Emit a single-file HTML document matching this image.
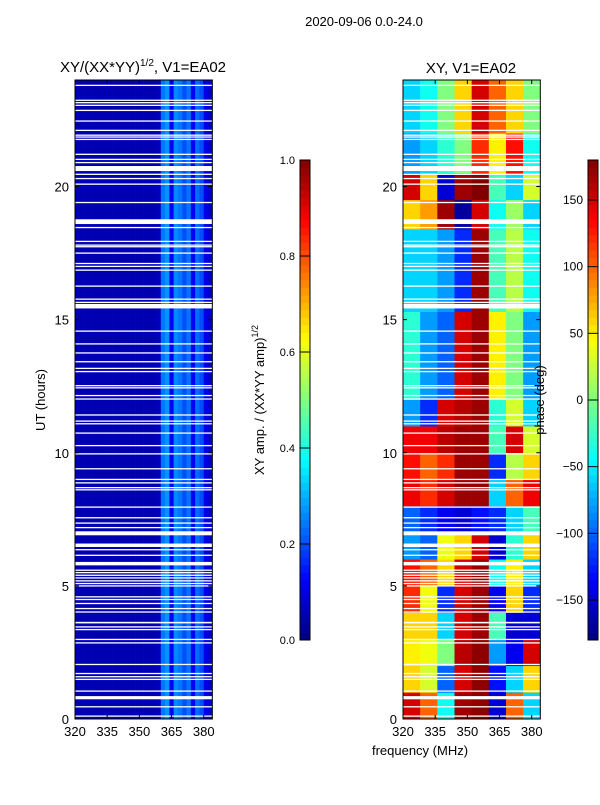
<!DOCTYPE html>
<html><head><meta charset="utf-8"><style>
body{margin:0;background:#fff;}
svg text{font-family:"Liberation Sans",sans-serif;fill:#000;}
</style></head><body>
<svg id="fig" width="600" height="800" xmlns="http://www.w3.org/2000/svg">
<rect width="600" height="800" fill="#fff"/>
<text x="364" y="26" font-size="13" text-anchor="middle">2020-09-06 0.0-24.0</text>
<text x="143" y="72" font-size="15" text-anchor="middle">XY/(XX*YY)<tspan font-size="10" dy="-6">1/2</tspan><tspan dy="6">, V1=EA02</tspan></text>
<text x="471" y="73" font-size="15" text-anchor="middle">XY, V1=EA02</text>
<g id="leftHeat"></g>
<g id="rightHeat"></g>
<g id="axes"></g>
<text transform="translate(45,400) rotate(-90)" font-size="13" text-anchor="middle">UT (hours)</text>
<text x="420" y="755" font-size="13" text-anchor="middle">frequency (MHz)</text>
<text transform="translate(264,400) rotate(-90)" font-size="13" text-anchor="middle">XY amp. / (XX*YY amp)<tspan font-size="9" dy="-6">1/2</tspan></text>
<text transform="translate(544,400) rotate(-90)" font-size="13" text-anchor="middle">phase (deg)</text>
<g id="cbars"></g>
</svg>
<script>
// ---- data ----
const freqBinStarts = [320,322,324,326,328,330,332,334,336,338,340,342,344,346,348,350,352,354,356,358,360,362,364,366,368,370,372,374,376,378,380,382];
const ampByFreq = [0.05,0.05,0.05,0.05,0.05,0.05,0.05,0.05,0.05,0.05,0.05,0.05,0.05,0.05,0.05,0.05,0.05,0.05,0.05,0.06,0.24,0.27,0.12,0.26,0.24,0.2,0.24,0.12,0.23,0.2,0.1,0.08];
const phaseFreqStarts = [320,328,336,344,352,360,368,376];
const phaseHourStarts = [0,1,2,3,4,5,6,7,8,9,10,11,12,15.3,18.4,19.5,20.5,22];
const phaseGrid = [
 [150,100,-40,170,175,-150,100,-60],
 [60,30,-100,150,175,-130,-60,60],
 [50,40,0,160,175,-80,-140,150],
 [60,60,-60,150,170,-20,-150,-150],
 [120,40,-120,150,170,-140,60,-120],
 [130,100,60,150,170,-40,50,-60],
 [-80,-100,40,60,150,-150,-30,60],
 [-100,-120,-140,-150,-130,-120,-60,-20],
 [140,120,150,170,170,-60,100,140],
 [130,100,120,170,170,-120,20,60],
 [140,140,160,170,170,-20,150,30],
 [-80,-120,150,160,170,-30,30,-60],
 [-30,-80,-100,150,170,50,0,-80],
 [-60,-60,-80,-120,170,-20,20,-40],
 [60,80,170,-170,150,-40,10,-60],
 [150,60,-150,170,180,-20,-60,30],
 [-80,-60,-30,0,120,50,130,-40],
 [-60,-40,0,60,150,100,60,0]
];
const blankHours = [23.80,23.24,23.15,23.05,22.86,22.46,22.11,21.93,21.86,21.77,21.21,21.02,20.90,20.46,20.30,20.09,19.40,18.46,17.94,17.80,17.74,17.50,17.11,17.00,16.86,16.26,15.77,15.65,14.57,14.09,13.75,13.42,13.17,13.05,12.52,12.44,12.15,12.02,11.42,11.19,11.09,10.74,10.27,9.96,9.40,9.00,8.87,8.69,8.61,7.96,7.56,7.36,7.19,6.36,6.15,5.59,5.50,5.40,5.30,5.19,5.09,5.00,4.59,4.49,4.34,4.15,4.02,3.46,3.36,2.99,2.86,2.05,1.71,1.59,1.49,1.05,0.46,0.11];
const blankRangeStart = [20.58,18.59,15.42,6.90,6.46,5.77,3.59,0.74];
const blankRangeEnd = [20.77,18.77,15.59,7.05,6.59,5.90,3.65,0.86];
const xTicks = [320,335,350,365,380];
const yTicks = [0,5,10,15,20];
const ampTicks = [0.0,0.2,0.4,0.6,0.8,1.0];
const phaseTicks = [-150,-100,-50,0,50,100,150];

// ---- scales ----
const NS="http://www.w3.org/2000/svg";
const panels=[{x0:75},{x0:403}];
const PW=137.3, PT=80, PB=719;
function xs(p,f){return panels[p].x0+(f-320)/64*PW;}
function ys(h){return PB-(h/24)*(PB-PT);}
function jet(v){v=Math.max(0,Math.min(1,v));
 const c=t=>Math.round(255*Math.max(0,Math.min(1,t)));
 return `rgb(${c(1.5-Math.abs(4*v-3))},${c(1.5-Math.abs(4*v-2))},${c(1.5-Math.abs(4*v-1))})`;}
function mk(tag,attrs,parent){const e=document.createElementNS(NS,tag);for(const k in attrs)e.setAttribute(k,attrs[k]);parent.appendChild(e);return e;}

const L=document.getElementById('leftHeat'), R=document.getElementById('rightHeat');
freqBinStarts.forEach((f,i)=>{
 const r=mk('rect',{x:xs(0,f),y:PT,width:xs(0,f+2)-xs(0,f)+0.3,height:PB-PT,fill:jet(ampByFreq[i])},L);
 
 
});
phaseHourStarts.forEach((h,j)=>{
 const h2 = j+1<phaseHourStarts.length?phaseHourStarts[j+1]:24;
 phaseFreqStarts.forEach((f,i)=>{
  const r=mk('rect',{x:xs(1,f),y:ys(h2),width:xs(1,f+8)-xs(1,f)+0.3,height:ys(h)-ys(h2)+0.3,fill:jet((phaseGrid[j][i]+180)/360)},R);
  
  
 });
});
[L,R].forEach((g,p)=>{
 blankHours.forEach(h=>{
  const r=mk('rect',{x:panels[p].x0,y:ys(h)-0.6,width:PW,height:1.3,fill:'#fff'},g);
  
  
 });
 blankRangeStart.forEach((h,i)=>{
  const r=mk('rect',{x:panels[p].x0,y:ys(blankRangeEnd[i]),width:PW,height:ys(h)-ys(blankRangeEnd[i]),fill:'#fff'},g);
  
  
 });
});
const A=document.getElementById('axes');
panels.forEach((pn,p)=>{
 const b=mk('rect',{x:pn.x0,y:PT,width:PW,height:PB-PT,fill:'none',stroke:'#000','stroke-width':1},A);
 
 
 xTicks.forEach(t=>{
  const x=xs(p,t);
  mk('line',{x1:x,y1:PB,x2:x,y2:PB-4,stroke:'#000'},A);
  mk('line',{x1:x,y1:PT,x2:x,y2:PT+4,stroke:'#000'},A);
  const tx=mk('text',{x:x,y:736,'font-size':13,'text-anchor':'middle'},A);tx.textContent=t;
  
  
 });
 yTicks.forEach(t=>{
  const y=ys(t);
  mk('line',{x1:pn.x0,y1:y,x2:pn.x0+4,y2:y,stroke:'#000'},A);
  mk('line',{x1:pn.x0+PW,y1:y,x2:pn.x0+PW-4,y2:y,stroke:'#000'},A);
  const tx=mk('text',{x:pn.x0-6,y:y+5,'font-size':13,'text-anchor':'end'},A);tx.textContent=t;
  
  
 });
});
const C=document.getElementById('cbars');
function cbar(x,lo,hi,ticks){
 const top=160,bot=640,n=64;
 for(let i=0;i<n;i++){
  const r=mk('rect',{x:x,y:bot-(i+1)*(bot-top)/n,width:10,height:(bot-top)/n+0.4,fill:jet((i+0.5)/n)},C);
  
  
 }
 const fr=mk('rect',{x:x,y:top,width:10,height:bot-top,fill:'none',stroke:'#000'},C);
 
 
 ticks.forEach(t=>{
  const y=bot-(t-lo)/(hi-lo)*(bot-top);
  mk('line',{x1:x,y1:y,x2:x+10,y2:y,stroke:'#000'},C);
  const tx=mk('text',{x:x-5,y:y+4,'font-size':lo<0?12:11,'text-anchor':'end'},C);
  tx.textContent = lo<0? (t<0?'\u2212'+(-t):t) : t.toFixed(1);
  
  
 });
}
cbar(300,0,1,ampTicks);
cbar(588,-180,180,phaseTicks);
</script>
</body></html>
